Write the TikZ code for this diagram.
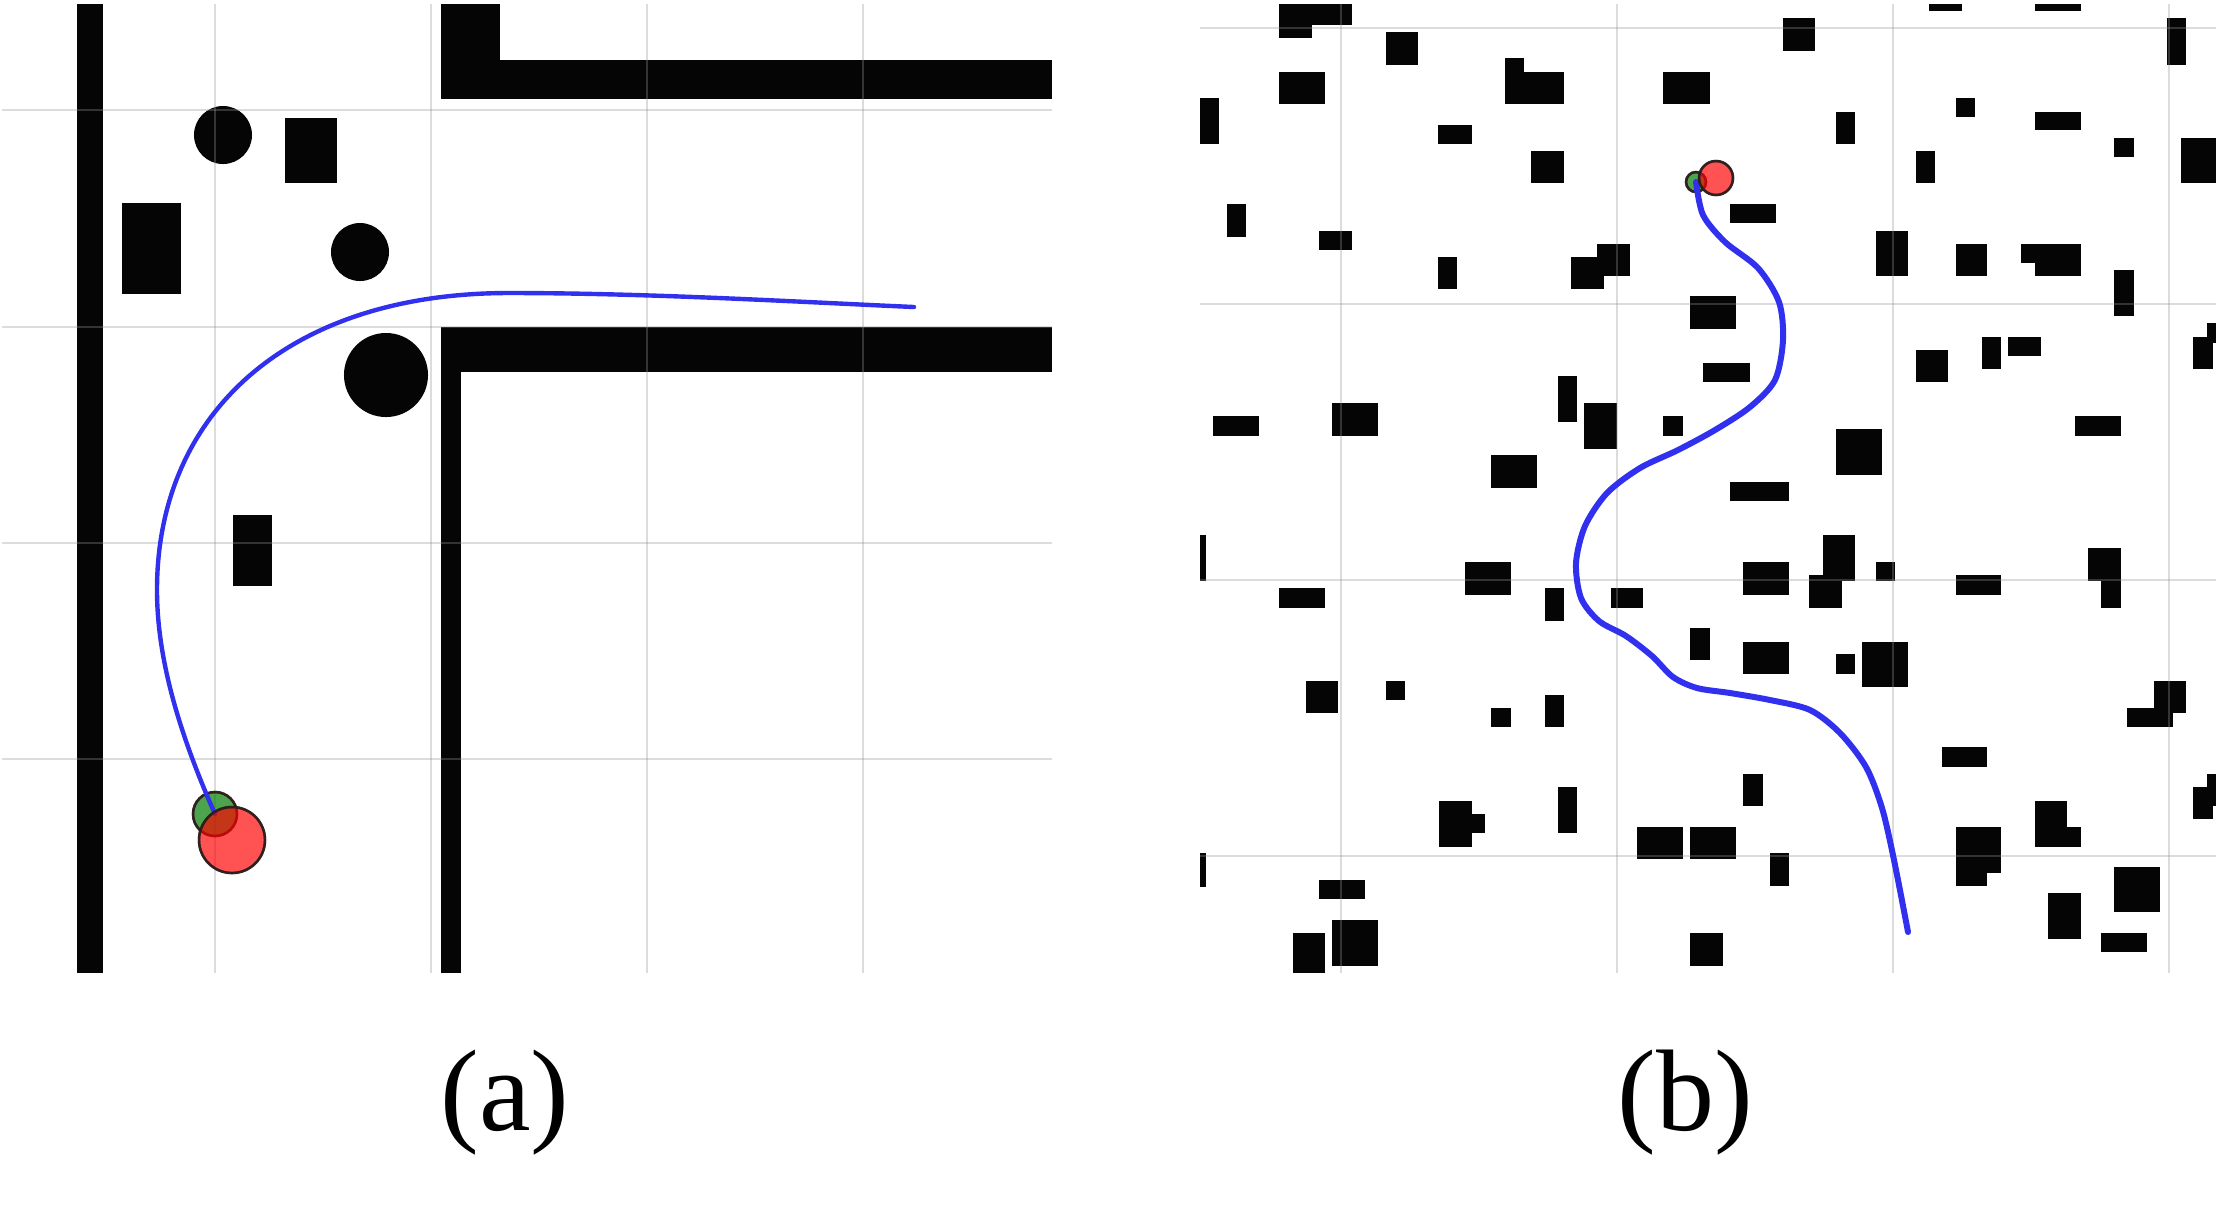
\documentclass[tikz,border=0pt]{standalone}
\usepackage{fontspec}
\setmainfont{Liberation Serif}
\definecolor{gridgray}{RGB}{150,150,150}
\definecolor{pathblue}{RGB}{48,48,238}
\definecolor{startgreen}{RGB}{0,128,0}
\definecolor{goalred}{RGB}{255,0,0}
\definecolor{ringdark}{RGB}{45,30,30}
\newcommand{\obrect}[4]{\fill[obst] (#1,#2) rectangle (#3,#4);}
\begin{document}
\begin{tikzpicture}[x=0.01cm,y=-0.01cm,
  obst/.style={fill=black!98},
  gridln/.style={draw=gridgray, line width=0.55pt, draw opacity=0.33},
  pathA/.style={draw=pathblue, line width=1.25pt, line cap=round, line join=round},
  pathB/.style={draw=pathblue, line width=1.7pt, line cap=round, line join=round},
  startdot/.style={fill=startgreen, fill opacity=0.7, draw=ringdark, line width=0.7pt, draw opacity=0.85},
  goaldot/.style={fill=goalred, fill opacity=0.68, draw=ringdark, line width=0.7pt, draw opacity=0.85},
  caption/.style={anchor=base, font=\fontsize{33}{40}\selectfont, inner sep=0pt}]
\useasboundingbox (0,0) rectangle (2218,1223);
\fill[white] (0,0) rectangle (2218,1223);

% ---------------- panel (a) ----------------
\fill[obst] (77,4) rectangle (103,973);
\fill[obst] (441,4) rectangle (500,99);
\fill[obst] (441,60) rectangle (1052,99);
\fill[obst] (441,327) rectangle (1052,372);
\fill[obst] (441,327) rectangle (461,973);
\fill[obst] (223,135) circle [radius=0.29cm];
\fill[obst] (360,252) circle [radius=0.29cm];
\fill[obst] (386,375) circle [radius=0.42cm];
\fill[obst] (285,118) rectangle (337,183);
\fill[obst] (122,203) rectangle (181,294);
\fill[obst] (233,515) rectangle (272,586);
% grid (a)
\foreach \gx in {215,431,647,863} {\draw[gridln] (\gx,4) -- (\gx,973);}
\foreach \gy in {110,327,543,759} {\draw[gridln] (2,\gy) -- (1052,\gy);}
% start / path / goal (a)
\fill[startdot] (215,814) circle [radius=0.22cm];
\draw[startdot, fill=none] (215,814) circle [radius=0.22cm];
\draw[pathA] (215,814) .. controls (180,735) and (157,660) .. (157,590)
  .. controls (157,413) and (288,293) .. (509,293)
  .. controls (650,293) and (800,302) .. (914,307);
\fill[goaldot] (232,840) circle [radius=0.33cm];
\draw[goaldot, fill=none] (232,840) circle [radius=0.33cm];
\node[caption] (capA) at (505,1130) {(a)};

% ---------------- panel (b) ----------------
\obrect{1279}{4}{1352}{25}\obrect{1279}{4}{1312}{38}
\obrect{1386}{32}{1418}{65}
\obrect{1279}{72}{1325}{104}
\obrect{1505}{58}{1524}{73}\obrect{1505}{72}{1564}{104}
\obrect{1663}{72}{1710}{104}
\obrect{1200}{98}{1219}{144}
\obrect{1438}{125}{1472}{144}
\obrect{1531}{151}{1564}{183}
\obrect{1227}{204}{1246}{237}
\obrect{1319}{231}{1352}{250}
\obrect{1438}{257}{1457}{289}
\obrect{1571}{257}{1604}{289}\obrect{1597}{244}{1630}{276}
\obrect{1690}{296}{1736}{329}
\obrect{1703}{363}{1750}{382}
\obrect{1558}{376}{1577}{422}
\obrect{1584}{403}{1617}{449}
\obrect{1663}{416}{1683}{436}
\obrect{1213}{416}{1259}{436}
\obrect{1332}{403}{1378}{436}
\obrect{1491}{455}{1537}{488}
\obrect{1929}{4}{1962}{11}
\obrect{2035}{4}{2081}{11}
\obrect{1783}{18}{1815}{51}
\obrect{2167}{18}{2186}{65}
\obrect{1956}{98}{1975}{117}
\obrect{2035}{112}{2081}{130}
\obrect{1836}{112}{1855}{144}
\obrect{2114}{138}{2134}{157}
\obrect{2181}{138}{2216}{183}
\obrect{1916}{151}{1935}{183}
\obrect{1730}{204}{1776}{223}
\obrect{1876}{231}{1908}{276}
\obrect{1956}{244}{1987}{276}
\obrect{2021}{244}{2081}{263}\obrect{2035}{244}{2081}{276}
\obrect{2114}{270}{2134}{316}
\obrect{1982}{337}{2001}{369}
\obrect{2008}{337}{2041}{356}
\obrect{1916}{350}{1948}{382}
\obrect{2193}{337}{2213}{369}\obrect{2207}{323}{2216}{343}
\obrect{2075}{416}{2121}{436}
\obrect{1836}{429}{1882}{475}
\obrect{1730}{482}{1789}{501}
\obrect{1200}{535}{1206}{581}
\obrect{1279}{588}{1325}{608}
\obrect{1465}{562}{1511}{595}
\obrect{1545}{588}{1564}{621}
\obrect{1611}{588}{1643}{608}
\obrect{1690}{628}{1710}{660}
\obrect{1306}{681}{1338}{713}
\obrect{1386}{681}{1405}{700}
\obrect{1491}{708}{1511}{727}
\obrect{1545}{695}{1564}{727}
\obrect{1439}{801}{1472}{847}\obrect{1471}{814}{1485}{833}
\obrect{1558}{787}{1577}{833}
\obrect{1637}{827}{1683}{859}
\obrect{1690}{827}{1736}{859}
\obrect{1200}{853}{1206}{887}
\obrect{1319}{880}{1365}{899}
\obrect{1332}{920}{1378}{966}
\obrect{1293}{933}{1325}{973}
\obrect{1690}{933}{1723}{966}
\obrect{1743}{562}{1789}{595}
\obrect{1823}{535}{1855}{581}\obrect{1809}{575}{1842}{608}
\obrect{1876}{562}{1895}{581}
\obrect{1956}{575}{2001}{595}
\obrect{2088}{548}{2121}{581}\obrect{2101}{580}{2121}{608}
\obrect{1743}{642}{1789}{674}
\obrect{1836}{654}{1855}{674}
\obrect{1862}{642}{1908}{687}
\obrect{2154}{681}{2186}{713}\obrect{2127}{708}{2173}{727}
\obrect{1942}{747}{1987}{767}
\obrect{1743}{774}{1763}{806}
\obrect{2035}{801}{2067}{847}\obrect{2035}{827}{2081}{847}
\obrect{2193}{787}{2213}{819}\obrect{2207}{774}{2216}{806}
\obrect{1956}{827}{2001}{873}\obrect{1956}{827}{1987}{886}
\obrect{1770}{853}{1789}{886}
\obrect{2114}{867}{2160}{912}
\obrect{2048}{893}{2081}{939}
\obrect{2101}{933}{2147}{952}
% grid (b)
\foreach \gx in {1341,1617,1893,2169} {\draw[gridln] (\gx,4) -- (\gx,973);}
\foreach \gy in {28,304,580,856} {\draw[gridln] (1200,\gy) -- (2216,\gy);}
% start / path / goal (b)
\fill[startdot] (1696,182) circle [radius=0.10cm];
\draw[startdot, fill=none] (1696,182) circle [radius=0.10cm];
\draw[pathB] plot[smooth, tension=0.5] coordinates {(1696,182) (1703,215) (1725,242) (1758,268) (1779,302) (1783,340) (1775,380) (1750,407) (1715,430) (1678,450) (1640,468) (1607,493) (1585,526) (1576,563) (1581,598) (1599,621) (1626,636) (1652,656) (1673,677) (1697,688) (1730,693) (1770,700) (1810,710) (1840,733) (1866,767) (1882,808) (1894,860) (1908,932)};
\fill[goaldot] (1716,178) circle [radius=0.17cm];
\draw[goaldot, fill=none] (1716,178) circle [radius=0.17cm];
\node[caption] (capB) at (1685,1130) {(b)};
\end{tikzpicture}
\end{document}
